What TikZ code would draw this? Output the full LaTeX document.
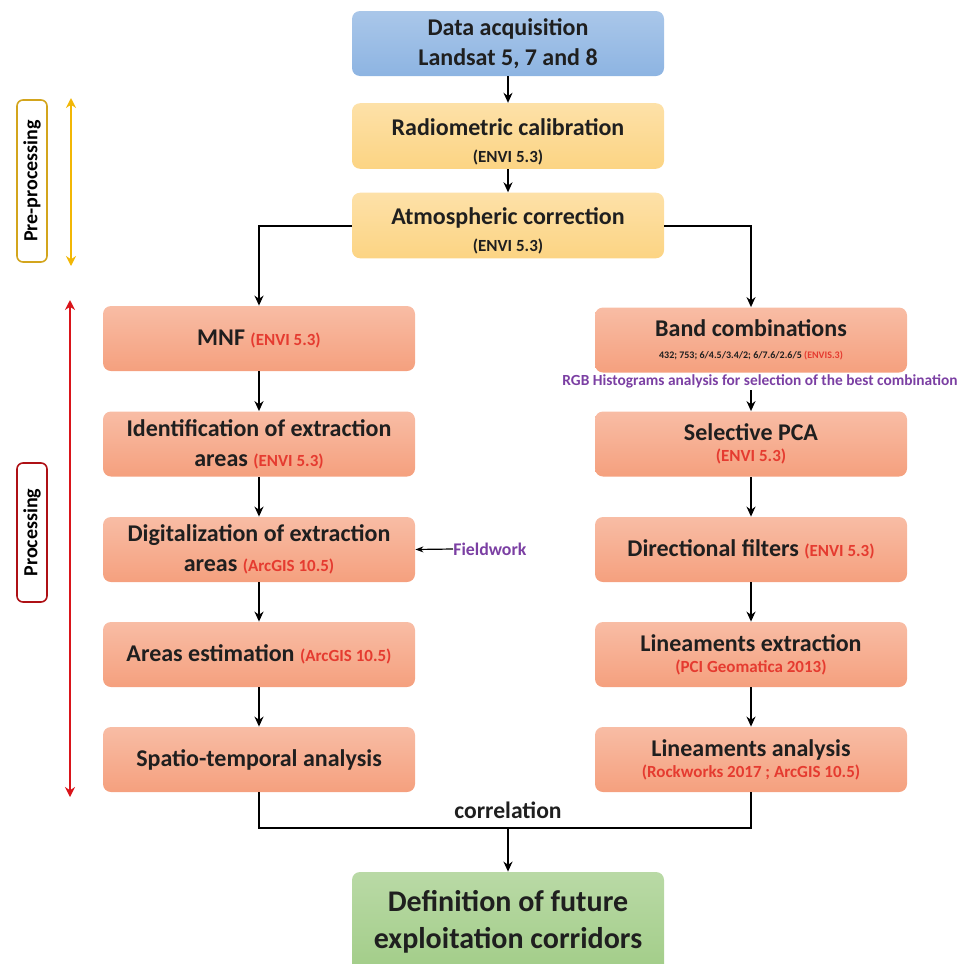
\documentclass[tikz,border=0pt]{standalone}
\usepackage{fontspec}
\setmainfont{Carlito}
\usetikzlibrary{arrows.meta, calc}
\usepackage{xcolor}

\definecolor{acqblue}{HTML}{8DB4E2}
\definecolor{preyellow}{HTML}{FCD483}
\definecolor{procsalmon}{HTML}{F5A07E}
\definecolor{goalgreen}{HTML}{A2CD88}
\definecolor{toolred}{HTML}{E53B30}
\definecolor{notepurple}{HTML}{7B3FA3}
\definecolor{spanyellow}{HTML}{F2B705}
\definecolor{spanred}{HTML}{D9141A}

\newcommand{\toolsub}[1]{{\fontsize{8.5}{10}\selectfont #1}}
\newcommand{\redtool}[1]{{\fontsize{8.5}{10}\selectfont\color{toolred}#1}}
\newcommand{\titlestrut}{\rule{0pt}{14pt}}

\tikzset{
  stepbox/.style={rounded corners=4pt, minimum width=156pt, minimum height=32.5pt,
    align=center, inner sep=2pt, text=black!88,
    font=\bfseries\fontsize{12}{15}\selectfont},
  acqbox/.style={stepbox, top color=acqblue!75!white, bottom color=acqblue},
  prebox/.style={stepbox, top color=preyellow!70!white, bottom color=preyellow},
  procbox/.style={stepbox, top color=procsalmon!70!white, bottom color=procsalmon},
  goalbox/.style={stepbox, minimum height=50pt, top color=goalgreen!75!white,
    bottom color=goalgreen, font=\bfseries\fontsize{15}{18.5}\selectfont},
  flow/.style={-{Stealth[length=5pt, width=4.5pt]}, line width=1pt},
  phaselabel/.style={rotate=90, rounded corners=3pt, fill=white, line width=0.8pt,
    minimum height=15pt, inner sep=1pt, font=\bfseries\fontsize{10}{12}\selectfont},
  phasespan/.style={{Stealth[length=5pt, width=5pt]}-{Stealth[length=5pt, width=5pt]},
    line width=1.3pt}
}

\begin{document}
\begin{tikzpicture}[x=0.5pt, y=-0.5pt]
  \useasboundingbox (0,0) rectangle (964,964);

  % top of the chain
  \node[acqbox] (acq) at (508,43.5) {Data acquisition\\Landsat 5, 7 and 8};
  \node[prebox] (radio) at (508,136) {\titlestrut Radiometric calibration\\[-1.5pt]\toolsub{(ENVI 5.3)}};
  \node[prebox] (atmo) at (508,225.5) {\titlestrut Atmospheric correction\\[-1.5pt]\toolsub{(ENVI 5.3)}};

  % left branch
  \node[procbox] (mnf) at (259,338.5) {MNF \redtool{(ENVI 5.3)}};
  \node[procbox] (ident) at (259,444) {Identification of extraction\\areas \redtool{(ENVI 5.3)}};
  \node[procbox] (digit) at (259,549.5) {Digitalization of extraction\\areas \redtool{(ArcGIS 10.5)}};
  \node[procbox] (areas) at (259,654.5) {Areas estimation \redtool{(ArcGIS 10.5)}};
  \node[procbox] (spatio) at (259,759.5) {Spatio-temporal analysis};

  % right branch
  \node[procbox] (band) at (751,340) {Band combinations\\[-4pt]{\fontsize{5}{7}\selectfont 432; 753; 6/4.5/3.4/2; 6/7.6/2.6/5 \textcolor{toolred}{(ENVIS.3)}}};
  \node[text=notepurple, font=\bfseries\fontsize{7.7}{9}\selectfont, inner sep=1pt] (rgb) at (760,381)
    {RGB Histograms analysis for selection of the best combination};
  \node[procbox] (pca) at (751,444) {Selective PCA\\[-4.5pt]\redtool{(ENVI 5.3)}};
  \node[procbox] (dirf) at (751,549.5) {Directional filters \redtool{(ENVI 5.3)}};
  \node[procbox] (linex) at (751,654.5) {Lineaments extraction\\[-4.5pt]\redtool{(PCI Geomatica 2013)}};
  \node[procbox] (linan) at (751,759.5) {Lineaments analysis\\[-4.5pt]\redtool{(Rockworks 2017 ; ArcGIS 10.5)}};

  \node[text=notepurple, font=\bfseries\fontsize{8.9}{10}\selectfont, anchor=west, inner sep=0pt] (field) at (453,549) {Fieldwork};

  % result
  \coordinate (join) at (508,828);
  \node[font=\bfseries\fontsize{11.8}{13}\selectfont, text=black!88] (corr) at (508,810) {correlation};
  \node[goalbox] (goal) at (508,922) {Definition of future\\exploitation corridors};

  % connectors
  \draw[flow] (acq) -- (radio);
  \draw[flow] (radio) -- (atmo);
  \draw[flow] (atmo.west) -| (mnf.north);
  \draw[flow] (atmo.east) -| (band.north);
  \draw[flow] (mnf) -- (ident);
  \draw[flow] (ident) -- (digit);
  \draw[flow] (digit) -- (areas);
  \draw[flow] (areas) -- (spatio);
  \draw[flow] (rgb.south -| pca) -- (pca);
  \draw[flow] (pca) -- (dirf);
  \draw[flow] (dirf) -- (linex);
  \draw[flow] (linex) -- (linan);
  \draw[-{Stealth[length=4pt, width=3pt]}, line width=0.6pt] (field.west) -- (digit.east);
  \draw[line width=1pt] (spatio.south) |- (join) -| (linan.south);
  \draw[flow] (join) -- (goal);

  % phases on the left
  \node[phaselabel, draw=spanyellow!85!black!90, minimum width=81pt] (prelab) at (32,181) {Pre-processing};
  \node[phaselabel, draw=spanred!80!black, minimum width=69.5pt] (proclab) at (32,532.5) {Processing};
  \coordinate (pretop) at (71,98);
  \coordinate (prebot) at (71,266);
  \coordinate (proctop) at (70,300);
  \coordinate (procbot) at (70,797);
  \draw[phasespan, spanyellow] (pretop) -- (prebot);
  \draw[phasespan, spanred] (proctop) -- (procbot);
\end{tikzpicture}
\end{document}
